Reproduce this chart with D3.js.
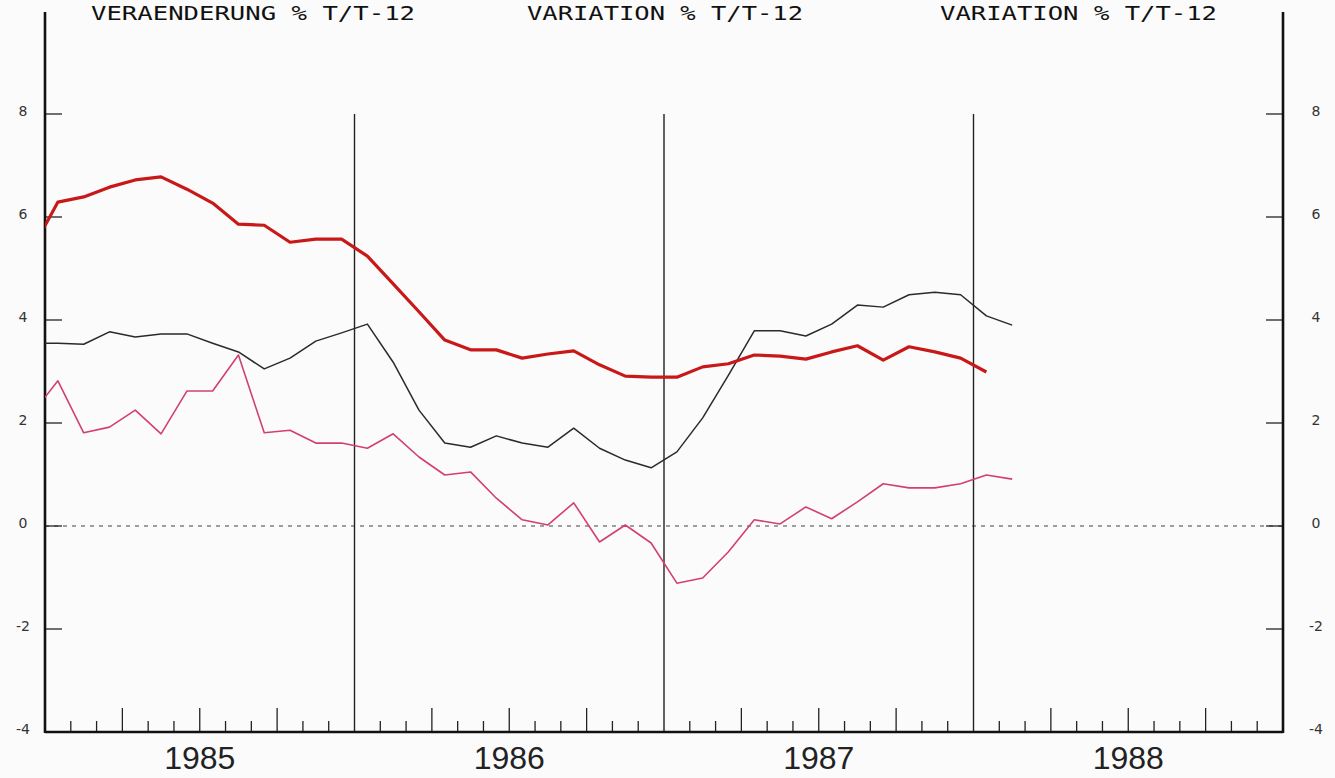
<!DOCTYPE html>
<html>
<head>
<meta charset="utf-8">
<script src="https://cdn.jsdelivr.net/npm/d3@7"></script>
<style>
  html, body { margin: 0; padding: 0; background: #fbfbfb; }
  svg { display: block; }
</style>
</head>
<body>
<svg id="chart" width="1335" height="778"></svg>
<script>
// ---- data (monthly, starting December 1984) ----
const startMonth = "1984-12";
const years = ["1985", "1986", "1987", "1988"];
const yTicks = [-4, -2, 0, 2, 4, 6, 8];
const titles = ["VERAENDERUNG % T/T-12", "VARIATION % T/T-12", "VARIATION % T/T-12"];

const redSeries = [5.37,
  6.29, 6.39, 6.58, 6.72, 6.78, 6.54, 6.27, 5.86, 5.84, 5.51, 5.57, 5.57,
  5.24, 4.70, 4.16, 3.61, 3.42, 3.42, 3.26, 3.34, 3.40, 3.13, 2.91, 2.89,
  2.89, 3.09, 3.15, 3.32, 3.30, 3.24, 3.38, 3.50, 3.22, 3.48, 3.38, 3.26,
  2.99];
const blackSeries = [3.55,
  3.55, 3.53, 3.77, 3.67, 3.73, 3.73, 3.55, 3.38, 3.05, 3.26, 3.59, 3.75,
  3.92, 3.18, 2.25, 1.61, 1.53, 1.75, 1.61, 1.53, 1.90, 1.51, 1.28, 1.13,
  1.44, 2.10, 2.93, 3.79, 3.79, 3.69, 3.92, 4.29, 4.25, 4.49, 4.54, 4.49,
  4.08, 3.90];
const pinkSeries = [2.18,
  2.82, 1.81, 1.92, 2.25, 1.79, 2.62, 2.62, 3.32, 1.81, 1.86, 1.61, 1.61,
  1.51, 1.79, 1.34, 0.99, 1.05, 0.54, 0.12, 0.02, 0.45, -0.31, 0.02, -0.33,
  -1.11, -1.01, -0.50, 0.12, 0.04, 0.37, 0.14, 0.47, 0.82, 0.74, 0.74, 0.82,
  0.99, 0.91];

// ---- layout ----
const L = 45, R = 1283, T = 12, B = 732;
const svg = d3.select("#chart");

// month index: 0 = start of Jan 1985, 48 = end of Dec 1988
const x = d3.scaleLinear().domain([0, 48]).range([L, R]);
const y = d3.scaleLinear().domain([-4, 8]).range([B, 114]);

// x position of series point k (k=0 is Dec 1984, mid-month)
const px = k => x(k - 1 + 0.5);

svg.append("defs").append("clipPath").attr("id", "plotclip")
  .append("rect").attr("x", L).attr("y", 0).attr("width", R - L).attr("height", B);

// zero line dashed
svg.append("line")
  .attr("x1", L).attr("x2", R).attr("y1", y(0)).attr("y2", y(0))
  .attr("stroke", "#444").attr("stroke-width", 1.2).attr("stroke-dasharray", "4,5");

// year separator lines
[12, 24, 36].forEach(m => {
  svg.append("line")
    .attr("x1", x(m)).attr("x2", x(m)).attr("y1", y(8)).attr("y2", B)
    .attr("stroke", "#222").attr("stroke-width", 1.4);
});

// month ticks on bottom axis
d3.range(1, 48).filter(m => m % 12 !== 0).forEach(m => {
  const h = (m % 3 === 0) ? 24 : 11;
  svg.append("line")
    .attr("x1", x(m)).attr("x2", x(m)).attr("y1", B).attr("y2", B - h)
    .attr("stroke", "#222").attr("stroke-width", 1.3);
});

// y ticks left & right
yTicks.forEach(v => {
  svg.append("line").attr("x1", L).attr("x2", L + 17).attr("y1", y(v)).attr("y2", y(v))
    .attr("stroke", "#222").attr("stroke-width", 1.3);
  svg.append("line").attr("x1", R - 17).attr("x2", R).attr("y1", y(v)).attr("y2", y(v))
    .attr("stroke", "#222").attr("stroke-width", 1.3);
  svg.append("text").attr("x", 23).attr("y", y(v) - 2)
    .attr("text-anchor", "middle").attr("dominant-baseline", "middle")
    .attr("font-family", "DejaVu Sans").attr("font-size", 14).attr("fill", "#333")
    .text(v);
  svg.append("text").attr("x", 1316).attr("y", y(v) - 2)
    .attr("text-anchor", "middle").attr("dominant-baseline", "middle")
    .attr("font-family", "DejaVu Sans").attr("font-size", 14).attr("fill", "#333")
    .text(v);
});

// frame
svg.append("line").attr("x1", L).attr("x2", L).attr("y1", T).attr("y2", B + 1)
  .attr("stroke", "#111").attr("stroke-width", 2.6);
svg.append("line").attr("x1", R).attr("x2", R).attr("y1", T).attr("y2", B + 1)
  .attr("stroke", "#111").attr("stroke-width", 2.6);
svg.append("line").attr("x1", L).attr("x2", R).attr("y1", B).attr("y2", B)
  .attr("stroke", "#111").attr("stroke-width", 2.6);

// year labels
years.forEach((yr, i) => {
  svg.append("text").attr("x", x(i * 12 + 6)).attr("y", 769)
    .attr("text-anchor", "middle")
    .attr("font-family", "Liberation Sans, Arial").attr("font-size", 32)
    .attr("fill", "#222").text(yr);
});

// titles
const titlePos = [[91, 324], [527, 276], [940, 277]];
titles.forEach((t, i) => {
  svg.append("text").attr("x", titlePos[i][0]).attr("y", 20)
    .attr("font-family", "DejaVu Sans Mono").attr("font-size", 20)
    .attr("fill", "#111")
    .attr("textLength", titlePos[i][1]).attr("lengthAdjust", "spacingAndGlyphs")
    .text(t);
});

// series lines
const line = d3.line().x((d, k) => px(k)).y(d => y(d));
const g = svg.append("g").attr("clip-path", "url(#plotclip)");
g.append("path").datum(pinkSeries).attr("d", line)
  .attr("fill", "none").attr("stroke", "#d2406e").attr("stroke-width", 1.6)
  .attr("stroke-linejoin", "round");
g.append("path").datum(blackSeries).attr("d", line)
  .attr("fill", "none").attr("stroke", "#2a2a2a").attr("stroke-width", 1.5)
  .attr("stroke-linejoin", "round");
g.append("path").datum(redSeries).attr("d", line)
  .attr("fill", "none").attr("stroke", "#c81818").attr("stroke-width", 3.2)
  .attr("stroke-linejoin", "round");
</script>
</body>
</html>
